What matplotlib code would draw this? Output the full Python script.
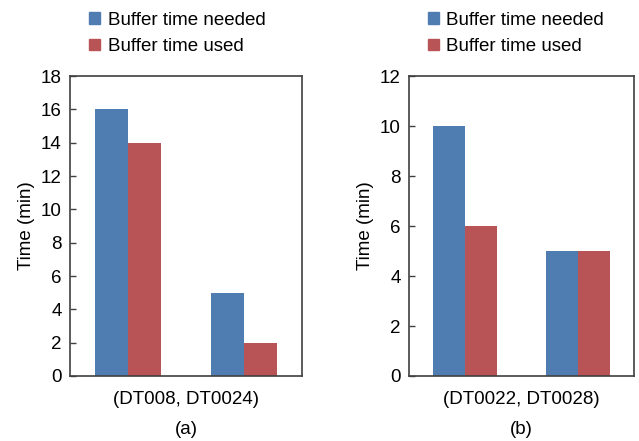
import numpy as np
import matplotlib
matplotlib.use("Agg")
import matplotlib.pyplot as plt
from matplotlib.patches import Patch

plt.rcParams['font.family'] = ['Liberation Sans', 'DejaVu Sans']
plt.rcParams['font.size'] = 13.5

# data
series = ["Buffer time needed", "Buffer time used"]
colors = ["#4F7CB1", "#B95456"]

pair_a = "(DT008, DT0024)"
needed_a = [16, 5]
used_a = [14, 2]

pair_b = "(DT0022, DT0028)"
needed_b = [10, 5]
used_b = [6, 5]

fig = plt.figure(figsize=(6.39, 4.41), dpi=100)
ax_a = fig.add_axes([0.1095, 0.1474, 0.363, 0.680])
ax_b = fig.add_axes([0.640, 0.1474, 0.352, 0.680])

def draw_panel(ax, needed, used, pair, tag, ymax, step):
    x = np.arange(len(needed))
    w = 0.285
    ax.bar(x - w / 2, needed, w, color=colors[0], zorder=1)
    ax.bar(x + w / 2, used, w, color=colors[1], zorder=1)
    ax.set_xlim(-0.5, 1.5)
    ax.set_ylim(0, ymax)
    ax.set_yticks(np.arange(0, ymax + 1, step))
    ax.set_xticks([0.5])
    ax.set_xticklabels([pair])
    ax.tick_params(axis='x', length=0, pad=11)
    ax.tick_params(axis='y', direction='in', length=4.5, width=1,
                   color='#404040', pad=6)
    for s in ax.spines.values():
        s.set_color('#404040')
        s.set_linewidth(1.2)
        s.set_zorder(3)
    ax.set_ylabel("Time (min)", labelpad=4)
    ax.text(0.5, -0.18, tag, transform=ax.transAxes, ha='center', va='center')
    handles = [Patch(color=c, label=l) for c, l in zip(colors, series)]
    ax.legend(handles=handles, loc='lower left', bbox_to_anchor=(0.05, 1.045),
              frameon=False, handlelength=0.6, handleheight=0.6,
              handletextpad=0.4, labelspacing=0.5, borderaxespad=0)

draw_panel(ax_a, needed_a, used_a, pair_a, "(a)", 18, 2)
draw_panel(ax_b, needed_b, used_b, pair_b, "(b)", 12, 2)

fig.savefig("out.png", dpi=100)
